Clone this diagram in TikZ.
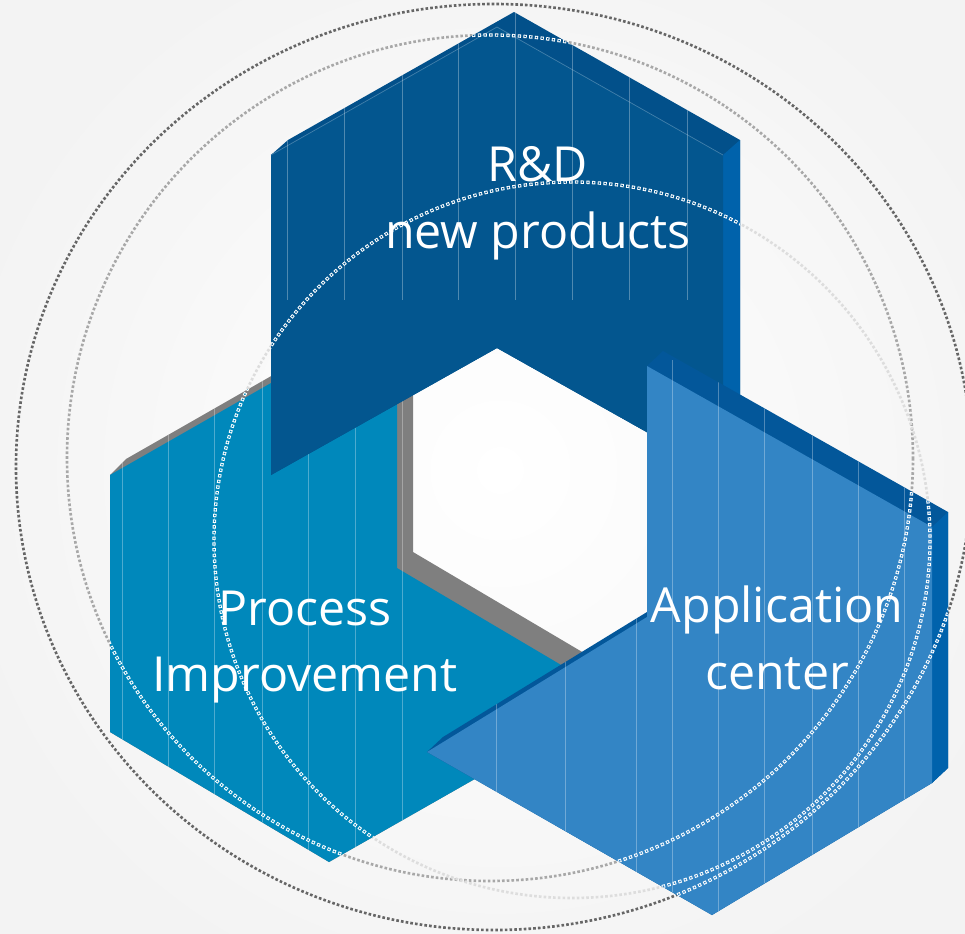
\documentclass[tikz,border=0pt]{standalone}
\usepackage{fontspec}
\newfontfamily\blockfont{Open Sans}
\definecolor{rdblue}{HTML}{03568F}
\definecolor{rdtop}{HTML}{02508A}
\definecolor{rdside}{HTML}{0062AB}
\definecolor{piteal}{HTML}{0088BB}
\definecolor{pigray}{HTML}{7F7F7F}
\definecolor{acblue}{HTML}{3385C5}
\definecolor{actop}{HTML}{03579A}
\definecolor{acside}{HTML}{0062AC}
\definecolor{bggray}{HTML}{F3F3F3}
\definecolor{ringdark}{HTML}{666666}
\definecolor{ringmid}{HTML}{A8A8A8}
\definecolor{ringlight}{HTML}{DDDDDD}

% the three dotted rings
\newcommand{\ringset}[3]{%
  \draw[#1] (494,467) ellipse [x radius=478, y radius=463];
  \draw[#2] (490,458) circle [radius=423];
  \draw[#3] (572,540) circle [radius=358];}
% rings as hollow white squares on a block
\newcommand{\hollowrings}[1]{%
  \ringset{hollow}{hollow}{hollow}
  \ringset{hole=#1}{hole=#1}{hole=#1}}

\begin{document}
\begin{tikzpicture}[
    x=0.02cm, y=-0.02cm,
    bgdot/.style={line width=1.5pt, dash pattern=on 1.5pt off 1.2pt},
    hollow/.style={white, line width=1.9pt, dash pattern=on 1.9pt off 1.35pt},
    hole/.style={#1, line width=0.8pt, dash pattern=on 0.8pt off 2.45pt, dash phase=2.7pt},
    faint/.style={white, opacity=0.3, line width=0.4pt},
    blocktext/.style={text=white, align=center, font=\blockfont\fontsize{27.5}{38}\selectfont}
]
\useasboundingbox (0,0) rectangle (965,934);
\fill[bggray] (0,0) rectangle (965,934);
\shade[inner color=white, outer color=bggray] (500,470) circle [radius=560];
\ringset{bgdot, ringdark}{bgdot, ringmid}{bgdot, ringlight}

% Process Improvement
\fill[pigray] (110,475) -- (126,459) -- (413,295) -- (413,552) -- (633,682) -- (617,698) -- (329,862) -- (110,732) -- cycle;
\fill[piteal] (110,475) -- (397,311) -- (397,568) -- (617,698) -- (329,862) -- (110,732) -- cycle;
\begin{scope}
  \clip (110,475) -- (126,459) -- (413,295) -- (413,552) -- (633,682) -- (617,698) -- (329,862) -- (110,732) -- cycle;
  \foreach \x in {122,168,214,262,308,355,402} \draw[faint] (\x,280) -- (\x,870);
  \hollowrings{piteal}
\end{scope}

% R&D
\fill[rdtop] (271,155) -- (288,140) -- (514,12) -- (740,140) -- (740,460) -- (723,475) -- (497,348) -- (271,475) -- cycle;
\fill[rdside] (723,155) -- (740,140) -- (740,460) -- (723,475) -- cycle;
\fill[rdblue] (271,155) -- (497,27) -- (723,155) -- (723,475) -- (497,348) -- (271,475) -- cycle;
\draw[rdblue!75!white, line width=0.4pt] (271,155) -- (497,27) -- (723,155);
\begin{scope}
  \clip (271,155) -- (288,140) -- (514,12) -- (740,140) -- (740,460) -- (723,475) -- (497,348) -- (271,475) -- cycle;
  \foreach \x in {287,344,402,458,515,572,629,687} \draw[faint] (\x,0) -- (\x,300);
  \hollowrings{rdblue}
\end{scope}

% Application center
\fill[actop] (647,366) -- (663,351) -- (948,512) -- (948,768) -- (932,783) -- (712,915) -- (427,752) -- (443,737) -- (647,612) -- cycle;
\fill[acside] (932,527) -- (948,512) -- (948,768) -- (932,783) -- cycle;
\fill[acblue] (647,366) -- (932,527) -- (932,783) -- (712,915) -- (427,752) -- (647,617) -- cycle;
\begin{scope}
  \clip (647,366) -- (663,351) -- (948,512) -- (948,768) -- (932,783) -- (712,915) -- (427,752) -- (443,737) -- (647,612) -- cycle;
  \foreach \x in {496,565,636,672,718,764,812,858,904} \draw[faint] (\x,360) -- (\x,920);
  \hollowrings{acblue}
\end{scope}

\node[blocktext] (rd) at (538,203) {R\&D\\new products};
\node[blocktext] (pi) at (305,647) {Process\\Improvement};
\node[blocktext] (ac) at (777,638) {Application\\center};
\end{tikzpicture}
\end{document}
